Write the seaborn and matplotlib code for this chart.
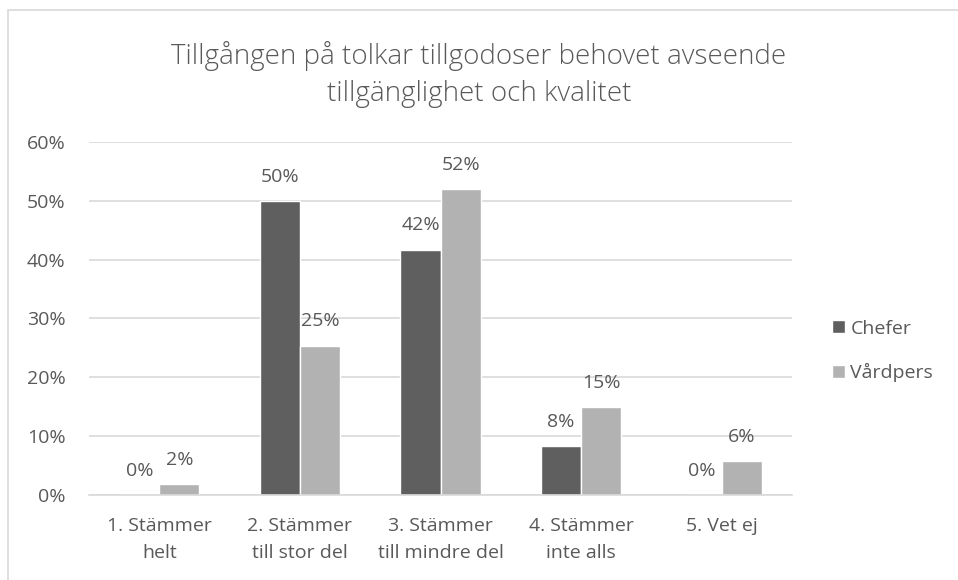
import numpy as np
import pandas as pd
import matplotlib.pyplot as plt
import seaborn as sns
from matplotlib.patches import Rectangle

# ── Data ──────────────────────────────────────────────────────────────────────
CATEGORIES = ["1. Stämmer\nhelt", "2. Stämmer\ntill stor del", "3. Stämmer\ntill mindre del",
              "4. Stämmer\ninte alls", "5. Vet ej"]
CHEFER     = [0.0, 50.0, 41.7, 8.3, 0.0]
VARDPERS   = [1.9, 25.4, 52.0, 14.9, 5.8]
SERIES     = ["Chefer", "Vårdpers"]
TITLE      = "Tillgången på tolkar tillgodoser behovet avseende\ntillgänglighet och kvalitet"

COLORS = ["#5f5f5f", "#b2b2b2"]
TEXT   = "#595959"
FS     = 14

df = pd.DataFrame({
    "cat": CATEGORIES * 2,
    "serie": [SERIES[0]] * len(CATEGORIES) + [SERIES[1]] * len(CATEGORIES),
    "value": CHEFER + VARDPERS,
})

sns.set_style("white")
plt.rcParams["font.family"] = ["Open Sans", "DejaVu Sans"]

fig = plt.figure(figsize=(9.58, 5.8), dpi=100)
ax = fig.add_axes([0.093, 0.1466, 0.7337, 0.6086])

sns.barplot(data=df, x="cat", y="value", hue="serie", palette=COLORS,
            width=0.57, saturation=1, ax=ax, legend=True)

for cont in ax.containers:
    labels = [f"{v:.0f}%" for v in cont.datavalues]
    ax.bar_label(cont, labels=labels, padding=11, fontsize=FS, color=TEXT)

ax.set_ylim(0, 60)
ax.set_xlim(-0.5, len(CATEGORIES) - 0.5)
ax.set_yticks(np.arange(0, 61, 10))
ax.set_yticklabels([f"{t}%" for t in range(0, 61, 10)], fontsize=FS, color=TEXT)
ax.tick_params(axis="x", labelsize=FS, colors=TEXT, length=0, pad=16)
ax.tick_params(axis="y", length=0, pad=17)
for lbl in ax.get_xticklabels():
    lbl.set_linespacing(1.65)
ax.grid(axis="y", color="#d9d9d9", linewidth=1.2)
ax.set_axisbelow(True)
ax.set_xlabel("")
ax.set_ylabel("")
for s in ["top", "right", "left"]:
    ax.spines[s].set_visible(False)
ax.spines["bottom"].set_color("#d9d9d9")
ax.spines["bottom"].set_linewidth(1.2)

ax.legend(loc="center left", bbox_to_anchor=(1.032, 0.408), frameon=False,
          fontsize=FS, handlelength=0.65, handleheight=0.65, handletextpad=0.3,
          labelspacing=1.3, labelcolor=TEXT)

fig.text(0.5, 0.872, TITLE, ha="center", va="center", fontsize=20, color=TEXT,
         linespacing=1.45, fontweight="light")

fig.add_artist(Rectangle((8 / 958, -0.05), 1.2, 1 - 10 / 580 + 0.05,
                         transform=fig.transFigure, fill=False,
                         edgecolor="#d9d9d9", linewidth=1.2))

fig.savefig("out.png", dpi=100)
